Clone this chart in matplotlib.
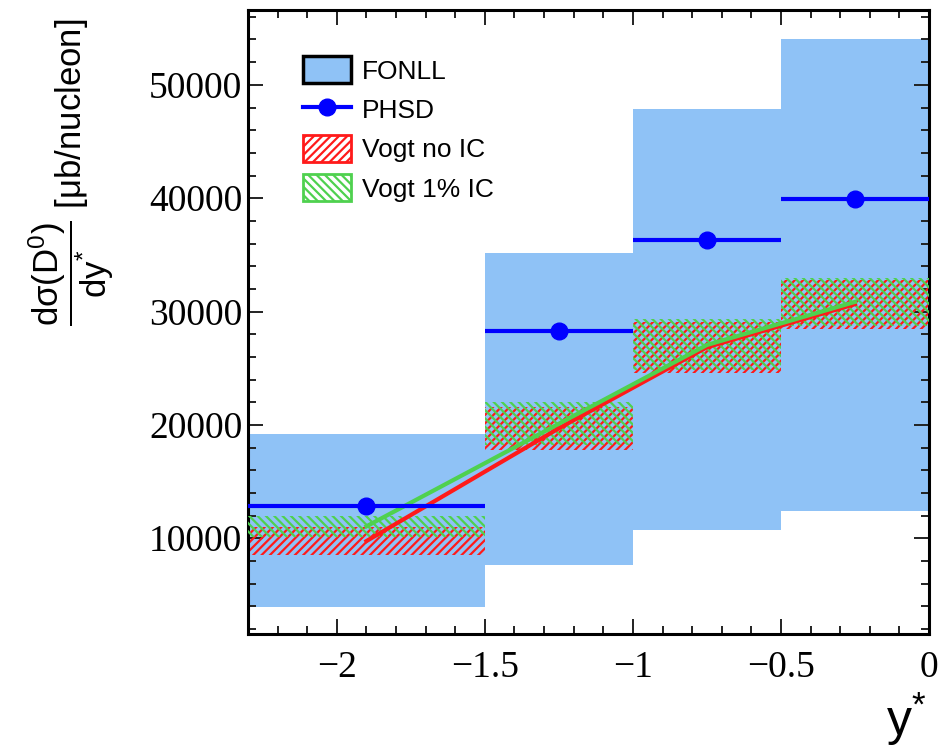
import numpy as np
import matplotlib
matplotlib.use('Agg')
from matplotlib import pyplot as plt
from matplotlib.patches import Patch
from matplotlib.lines import Line2D

plt.rcParams['mathtext.fontset'] = 'custom'
plt.rcParams['mathtext.rm'] = 'Liberation Sans'
plt.rcParams['mathtext.it'] = 'Liberation Sans'
plt.rcParams['mathtext.bf'] = 'Liberation Sans:bold'
plt.rcParams['hatch.linewidth'] = 1.6

# rapidity bins (y*)
bin_lo = [-2.3, -1.5, -1.0, -0.5]
bin_hi = [-1.5, -1.0, -0.5, 0.0]
bin_mid = [-1.9, -1.25, -0.75, -0.25]

# FONLL uncertainty band
fonll_lo = [3900, 7600, 10700, 12400]
fonll_hi = [19200, 35200, 47900, 54000]

# PHSD
phsd = [12800, 28300, 36300, 39900]

# Vogt, no intrinsic charm
noic_lo = [8500, 17800, 24600, 28500]
noic_hi = [11000, 21600, 29100, 32800]
noic_c = [9750, 19700, 26850, 30650]

# Vogt, 1% intrinsic charm
ic_lo = [10100, 18200, 24800, 28700]
ic_hi = [12000, 22000, 29300, 33000]
ic_c = [11050, 20100, 27050, 30850]

blue_fill = '#8fc2f6'
red = '#ff1a1a'
green = '#4fd14f'

fig = plt.figure(figsize=(9.38, 7.48), dpi=100)
ax = fig.add_axes([0.2644, 0.1524, 0.726, 0.8342])

lo = np.array(bin_lo)
hi = np.array(bin_hi)
w = hi - lo
ctr = (lo + hi) / 2

ax.bar(ctr, np.array(fonll_hi) - np.array(fonll_lo), bottom=fonll_lo, width=w,
       color=blue_fill, linewidth=0, zorder=1)

ax.bar(ctr, np.array(noic_hi) - np.array(noic_lo), bottom=noic_lo, width=w,
       facecolor='none', edgecolor=red, hatch='////', linewidth=0, zorder=2)
ax.bar(ctr, np.array(ic_hi) - np.array(ic_lo), bottom=ic_lo, width=w,
       facecolor='none', edgecolor=green, hatch='\\\\\\\\', linewidth=0, zorder=3)

ax.plot(bin_mid, noic_c, color=red, lw=3, zorder=4)
ax.plot(bin_mid, ic_c, color=green, lw=3, zorder=4)

ax.hlines(phsd, bin_lo, bin_hi, color='#0000ff', lw=3, zorder=5)
ax.plot(bin_mid, phsd, 'o', color='#0000ff', ms=12, zorder=6)

ax.set_xlim(-2.3, 0)
ax.set_ylim(1550, 56600)
ax.set_xticks([-2, -1.5, -1, -0.5, 0])
ax.set_xticklabels(['\u22122', '\u22121.5', '\u22121', '\u22120.5', '0'])
ax.set_xticks(np.arange(-2.3, 0.001, 0.1), minor=True)
ax.set_yticks([10000, 20000, 30000, 40000, 50000])
ax.set_yticks(np.arange(2000, 56001, 2000), minor=True)

ax.tick_params(which='both', direction='in', top=True, right=True, width=1.4,
               labelsize=27, colors='#222222')
ax.tick_params(which='major', length=11)
ax.tick_params(which='minor', length=6)
ax.tick_params(axis='x', pad=12)
ax.tick_params(axis='y', pad=4)
for lab in ax.get_xticklabels() + ax.get_yticklabels():
    lab.set_family('Liberation Serif')
    lab.set_color('black')
for s in ax.spines.values():
    s.set_linewidth(2.2)

fig.text(0.076, 0.975,
         r'$\dfrac{\mathrm{d\sigma(D^{0})}}{\mathrm{dy^{*}}}$ [μb/nucleon]',
         rotation=90, ha='center', va='top', fontsize=25, family='Liberation Sans')
fig.text(0.988, 0.0, r'y$^{*}$', ha='right', va='bottom', fontsize=36,
         family='Liberation Sans')

handles = [
    Patch(facecolor=blue_fill, edgecolor='black', linewidth=2.5),
    Line2D([0], [0], color='#0000ff', lw=3, marker='o', ms=12),
    Patch(facecolor='white', edgecolor=red, hatch='////', linewidth=2),
    Patch(facecolor='white', edgecolor=green, hatch='\\\\\\\\', linewidth=2),
]
labels = ['FONLL', 'PHSD', 'Vogt no IC', 'Vogt 1% IC']
leg = fig.legend(handles, labels, loc='upper left', bbox_to_anchor=(0.323, 0.925),
                 frameon=False, handlelength=1.82, handleheight=1.21,
                 handletextpad=0.42, labelspacing=0.45, borderpad=0, borderaxespad=0,
                 prop={'family': 'Liberation Sans', 'size': 19})

fig.savefig('out.png', dpi=100)
